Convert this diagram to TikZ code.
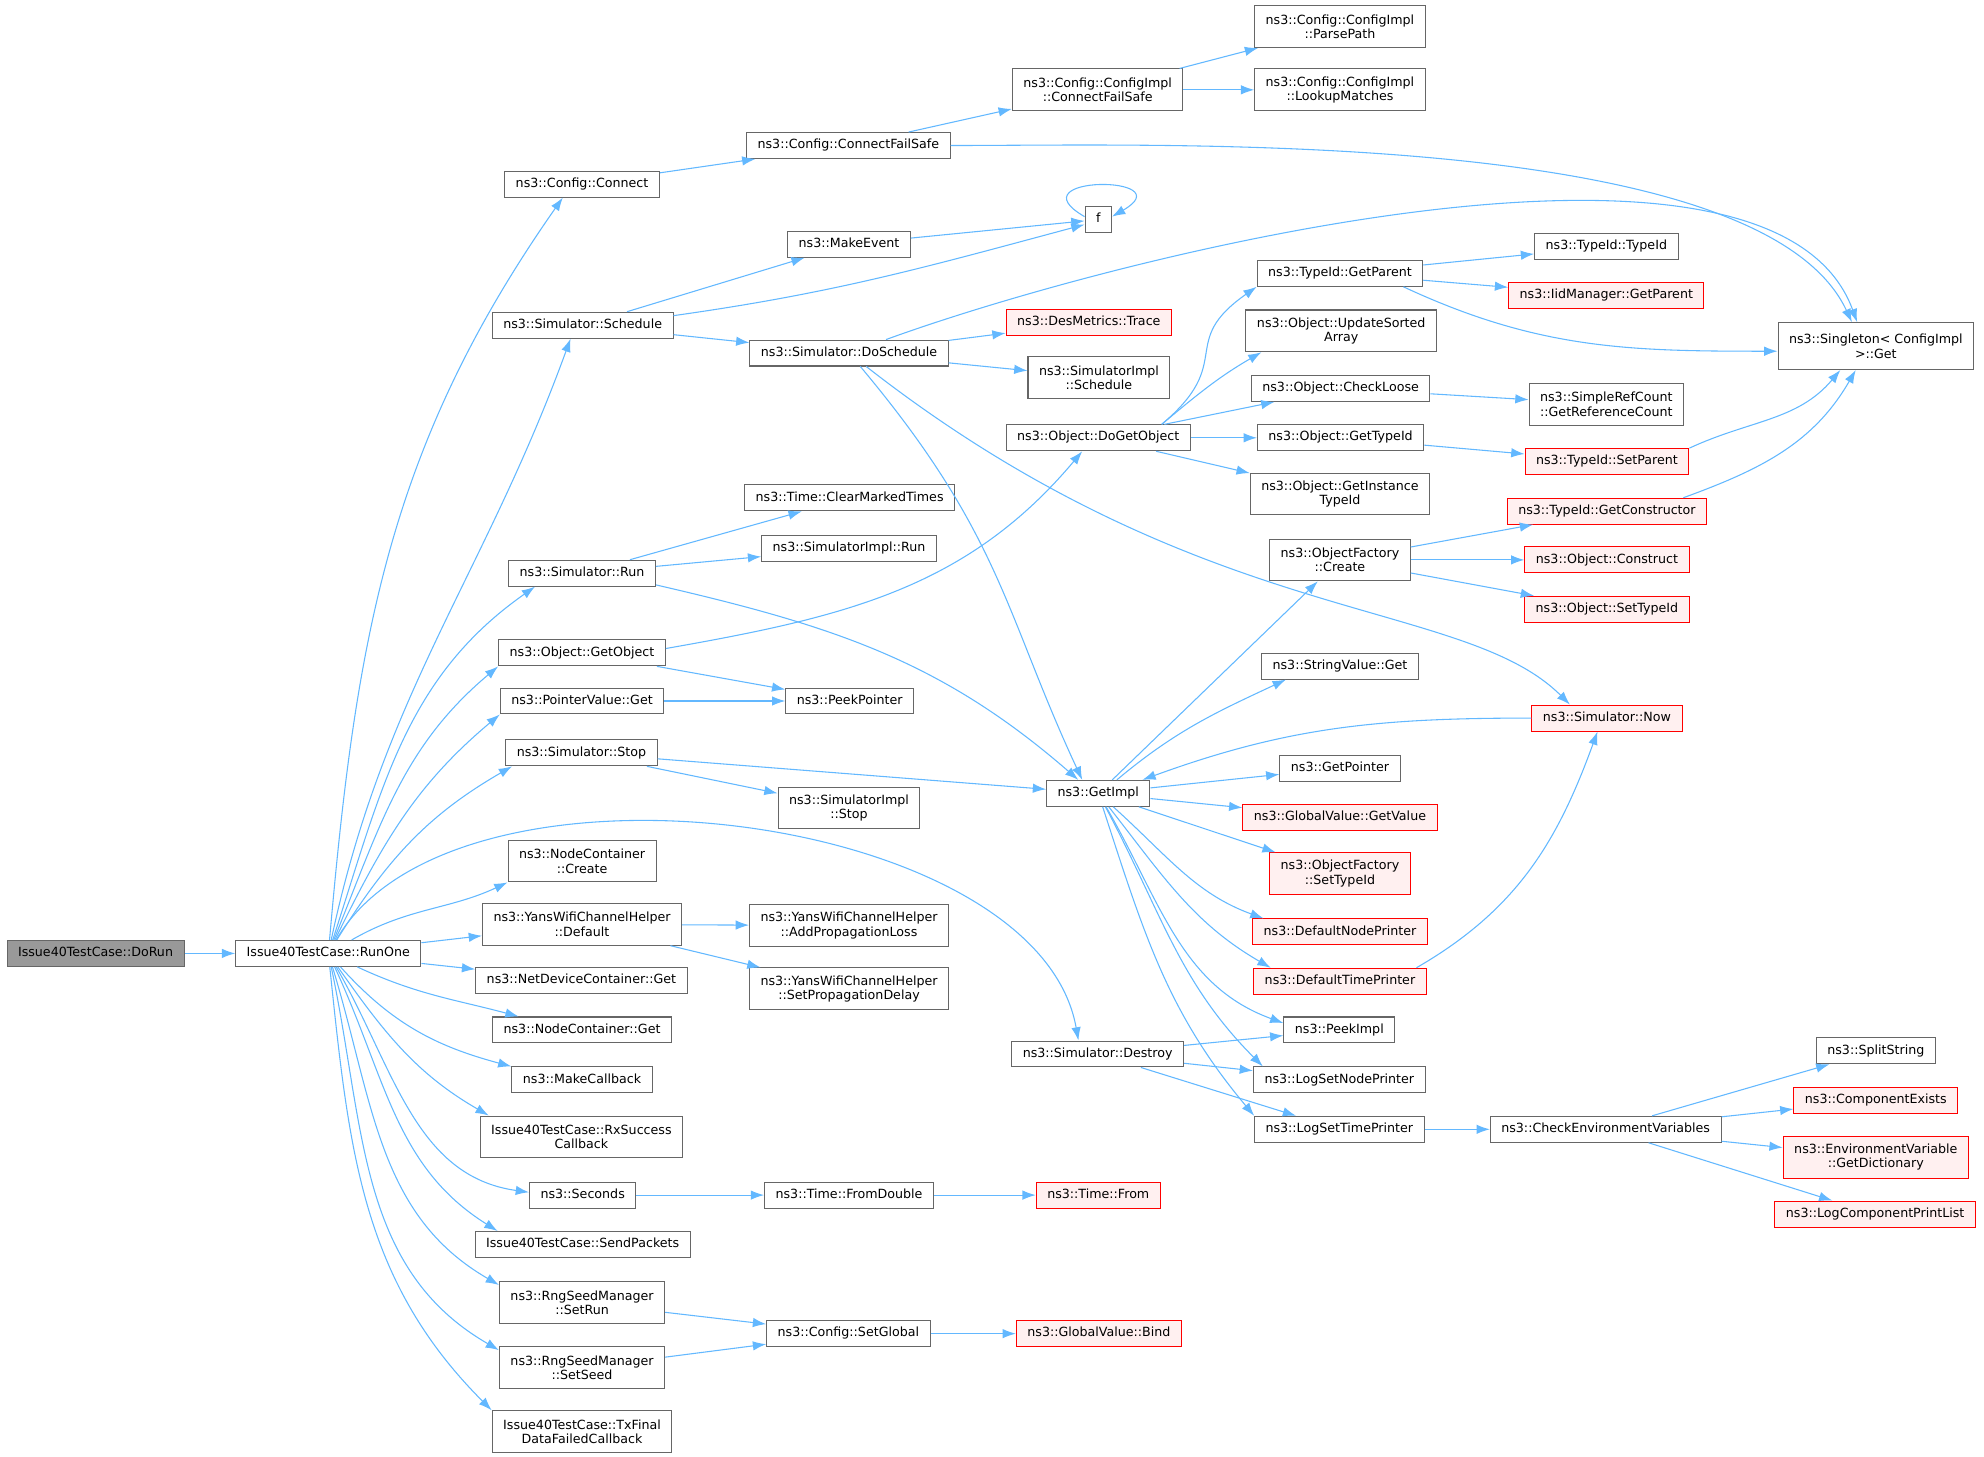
\documentclass[tikz,border=0pt]{standalone}
\usepackage{fontspec}
\setmainfont{DejaVu Sans}
\usetikzlibrary{arrows.meta}
\definecolor{edgeblue}{HTML}{63B8FF}
\definecolor{boxgray}{HTML}{666666}
\definecolor{missfill}{HTML}{FFF0F0}
\definecolor{rootgray}{HTML}{999999}
\begin{document}
\begin{tikzpicture}[x=1pt,y=1pt,>={Latex[length=10.5pt,width=7.5pt]},
    box/.style={draw=boxgray,fill=white,line width=0.8pt,inner xsep=8.7pt,inner ysep=2pt,font=\fontsize{10}{11.5}\selectfont},
    fn/.style={box,minimum height=20.5pt,text height=7.5pt,text depth=2.5pt},
    fnn/.style={box,minimum height=33pt,align=center},
    miss/.style={draw=red,fill=missfill},
    root/.style={fill=rootgray},
    call/.style={->,color=edgeblue,line width=0.85pt}]
    \useasboundingbox (0,0) rectangle (1568,-1151);

    \node[fn,root] (DoRun) at (75.5,-753.5) {Issue40TestCase::DoRun};
    \node[fn] (RunOne) at (259.5,-753.5) {Issue40TestCase::RunOne};

    \node[fn] (Connect) at (460,-145.5) {ns3::Config::Connect};
    \node[fn] (Schedule) at (460.5,-257) {ns3::Simulator::Schedule};
    \node[fn] (SimRun) at (460,-453) {ns3::Simulator::Run};
    \node[fn] (GetObject) at (460,-516) {ns3::Object::GetObject};
    \node[fn] (PtrGet) at (460,-554) {ns3::PointerValue::Get};
    \node[fn] (SimStop) at (459.5,-595) {ns3::Simulator::Stop};
    \node[fnn] (NcCreate) at (460,-680.5) {ns3::NodeContainer\\::Create};
    \node[fnn] (YwDefault) at (460,-730.5) {ns3::YansWifiChannelHelper\\::Default};
    \node[fn] (NdcGet) at (459.5,-775) {ns3::NetDeviceContainer::Get};
    \node[fn] (NcGet) at (460,-814) {ns3::NodeContainer::Get};
    \node[fn] (MakeCb) at (460,-853.5) {ns3::MakeCallback};
    \node[fnn] (RxCb) at (459.5,-898.5) {Issue40TestCase::RxSuccess\\Callback};
    \node[fn] (Seconds) at (460.5,-944.5) {ns3::Seconds};
    \node[fn] (SendPk) at (460.5,-983.5) {Issue40TestCase::SendPackets};
    \node[fnn] (SetRun) at (460,-1029.5) {ns3::RngSeedManager\\::SetRun};
    \node[fnn] (SetSeed) at (460,-1081) {ns3::RngSeedManager\\::SetSeed};
    \node[fnn] (TxCb) at (460,-1131.5) {Issue40TestCase::TxFinal\\DataFailedCallback};

    \node[fn] (ConnFs) at (670.5,-115) {ns3::Config::ConnectFailSafe};
    \node[fn] (MakeEvent) at (671,-193) {ns3::MakeEvent};
    \node[fn] (DoSched) at (671,-279) {ns3::Simulator::DoSchedule};
    \node[fn] (ClearMt) at (671.5,-393.5) {ns3::Time::ClearMarkedTimes};
    \node[fn] (ImplRun) at (671,-433.5) {ns3::SimulatorImpl::Run};
    \node[fn] (PeekPtr) at (671.5,-554) {ns3::PeekPointer};
    \node[fnn] (ImplStop) at (671,-638.5) {ns3::SimulatorImpl\\::Stop};
    \node[fnn] (AddLoss) at (671,-731.5) {ns3::YansWifiChannelHelper\\::AddPropagationLoss};
    \node[fnn] (SetDelay) at (671,-781.5) {ns3::YansWifiChannelHelper\\::SetPropagationDelay};
    \node[fn] (FromDbl) at (671,-944.5) {ns3::Time::FromDouble};
    \node[fn] (SetGlobal) at (670.5,-1054) {ns3::Config::SetGlobal};

    \node[fnn] (ImplConnFs) at (867.5,-71) {ns3::Config::ConfigImpl\\::ConnectFailSafe};
    \node[fn] (F) at (868,-173.5) {f};
    \node[fn,miss] (Trace) at (860.5,-255) {ns3::DesMetrics::Trace};
    \node[fnn] (ImplSched) at (868.5,-298.5) {ns3::SimulatorImpl\\::Schedule};
    \node[fn] (DoGetObj) at (868,-346) {ns3::Object::DoGetObject};
    \node[fn] (GetImpl) at (868,-627) {ns3::GetImpl};
    \node[fn] (Destroy) at (867.5,-833) {ns3::Simulator::Destroy};
    \node[fn,miss] (TimeFrom) at (868,-944.5) {ns3::Time::From};
    \node[fn,miss] (Bind) at (868.5,-1054) {ns3::GlobalValue::Bind};

    \node[fnn] (ParsePath) at (1059,-21) {ns3::Config::ConfigImpl\\::ParsePath};
    \node[fnn] (Lookup) at (1059,-71) {ns3::Config::ConfigImpl\\::LookupMatches};
    \node[fn] (TidParent) at (1059,-216) {ns3::TypeId::GetParent};
    \node[fnn] (UpdSorted) at (1060,-261.5) {ns3::Object::UpdateSorted\\Array};
    \node[fn] (CheckLoose) at (1059.5,-307) {ns3::Object::CheckLoose};
    \node[fn] (GetTid) at (1059.5,-346) {ns3::Object::GetTypeId};
    \node[fnn] (InstTid) at (1059,-390.5) {ns3::Object::GetInstance\\TypeId};
    \node[fnn] (OfCreate) at (1059,-442.5) {ns3::ObjectFactory\\::Create};
    \node[fn] (StrGet) at (1059,-526.5) {ns3::StringValue::Get};
    \node[fn] (GetPtr) at (1059,-607) {ns3::GetPointer};
    \node[fn,miss] (GetValue) at (1059,-646) {ns3::GlobalValue::GetValue};
    \node[fnn,miss] (OfSetTid) at (1059,-690.5) {ns3::ObjectFactory\\::SetTypeId};
    \node[fn,miss] (NodePr) at (1059,-736.5) {ns3::DefaultNodePrinter};
    \node[fn,miss] (TimePr) at (1059,-775.5) {ns3::DefaultTimePrinter};
    \node[fn] (PeekImpl) at (1058.5,-814) {ns3::PeekImpl};
    \node[fn] (LogNode) at (1058.5,-853.5) {ns3::LogSetNodePrinter};
    \node[fn] (LogTime) at (1058.5,-892.5) {ns3::LogSetTimePrinter};

    \node[fn] (TidCtor) at (1269.5,-195) {ns3::TypeId::TypeId};
    \node[fn,miss] (IidParent) at (1269.5,-233.5) {ns3::IidManager::GetParent};
    \node[fnn] (RefCount) at (1269.5,-319.5) {ns3::SimpleRefCount\\::GetReferenceCount};
    \node[fn,miss] (SetParent) at (1270,-364.5) {ns3::TypeId::SetParent};
    \node[fn,miss] (GetCtor) at (1270,-404) {ns3::TypeId::GetConstructor};
    \node[fn,miss] (Construct) at (1270,-442.5) {ns3::Object::Construct};
    \node[fn,miss] (ObjSetTid) at (1270,-481.5) {ns3::Object::SetTypeId};
    \node[fn,miss] (Now) at (1270,-567.5) {ns3::Simulator::Now};
    \node[fn] (CheckEnv) at (1269,-892.5) {ns3::CheckEnvironmentVariables};

    \node[fnn,minimum height=37pt] (Singleton) at (1482.5,-273.5) {ns3::Singleton< ConfigImpl\\>::Get};
    \node[fn] (Split) at (1482.5,-830.5) {ns3::SplitString};
    \node[fn,miss] (CompEx) at (1482.5,-869.5) {ns3::ComponentExists};
    \node[fnn,miss] (GetDict) at (1482.5,-914.5) {ns3::EnvironmentVariable\\::GetDictionary};
    \node[fn,miss] (PrintList) at (1482,-959.5) {ns3::LogComponentPrintList};

    \path[call] (DoRun) edge (RunOne);
    \path[call] (RunOne) edge[out=85,in=-125] (Connect.215)
        edge[out=78,in=-110] (Schedule.228)
        edge[out=72,in=-145] (SimRun.196)
        edge[out=68,in=-140] (GetObject.south west)
        edge[out=64,in=-140] (PtrGet.south west)
        edge[out=58,in=-150] (SimStop.191)
        edge[out=60,in=100,looseness=0.8] (Destroy.145)
        edge[out=30,in=-155] (NcCreate.south west)
        edge (YwDefault)
        edge (NdcGet)
        edge[out=-25,in=165] (NcGet.168)
        edge[out=-48,in=165] (MakeCb.north west)
        edge[out=-55,in=150] (RxCb.167)
        edge[out=-60,in=172] (Seconds.177)
        edge[out=-65,in=148] (SendPk.171)
        edge[out=-73,in=150] (SetRun.168)
        edge[out=-78,in=150] (SetSeed.168)
        edge[out=-84,in=135] (TxCb.north west);

    \path[call] (Connect) edge (ConnFs);
    \path[call] (ConnFs) edge (ImplConnFs)
        edge[out=0,in=115,looseness=0.6] (Singleton.135);
    \path[call] (ImplConnFs) edge (ParsePath) edge (Lookup);
    \path[call] (Schedule) edge (MakeEvent) edge (DoSched);
    \path[call] (Schedule.6) edge[out=8,in=195] (F.200);
    \path[call] (MakeEvent) edge (F);
    \path[call] (F.168) edge[out=150,in=30,min distance=66pt] (F.12);
    \path[call] (DoSched) edge (Trace) edge (ImplSched)
        edge[out=20,in=110,looseness=0.65] (Singleton.128)
        edge[out=-50,in=115,out looseness=1.2] (GetImpl.140)
        edge[out=-38,in=135,out looseness=1.4,in looseness=0.5] (Now.160);
    \path[call] (SimRun) edge (ClearMt) edge (ImplRun);
    \path[call] (SimRun.-9) edge[out=-13,in=139] (GetImpl.146);
    \path[call] (GetObject.3) edge[out=10,in=-130] (DoGetObj.220);
    \path[call] (GetObject) edge (PeekPtr);
    \path[call] (PtrGet) edge (PeekPtr);
    \path[call] (SimStop) edge (GetImpl) edge (ImplStop);
    \path[call] (YwDefault) edge (AddLoss) edge (SetDelay);
    \path[call] (Seconds) edge (FromDbl);
    \path[call] (FromDbl) edge (TimeFrom);
    \path[call] (SetRun) edge (SetGlobal);
    \path[call] (SetSeed) edge (SetGlobal);
    \path[call] (SetGlobal) edge (Bind);

    \path[call] (DoGetObj.12) edge[out=40,in=-145,looseness=1.5] (TidParent.south west)
        edge[out=40,in=-150] (UpdSorted.195);
    \path[call] (DoGetObj) edge (CheckLoose) edge (GetTid) edge (InstTid);
    \path[call] (TidParent) edge (TidCtor) edge (IidParent);
    \path[call] (TidParent.-12) edge[out=-25,in=180] (Singleton.183);
    \path[call] (CheckLoose) edge (RefCount);
    \path[call] (GetTid) edge (SetParent);
    \path[call] (SetParent.9) edge[out=25,in=-130] (Singleton.-146);
    \path[call] (GetCtor.10) edge[out=20,in=-120] (Singleton.-130);
    \path[call] (OfCreate) edge (GetCtor) edge (Construct) edge (ObjSetTid);

    \path[call] (GetImpl) edge (OfCreate);
    \path[call] (GetImpl.36) edge[out=40,in=-155] (StrGet.194);
    \path[call] (Now) edge[out=180,in=20] (GetImpl.17);
    \path[call] (GetImpl) edge (GetPtr) edge (GetValue) edge (OfSetTid)
        edge[out=-42,in=160] (NodePr.170)
        edge[out=-52,in=150] (TimePr.169)
        edge[out=-60,in=160] (PeekImpl.173)
        edge[out=-62,in=135] (LogNode.170)
        edge[out=-72,in=130] (LogTime.171);
    \path[call] (TimePr.10) edge[out=30,in=-110] (Now.-125);
    \path[call] (Destroy) edge (PeekImpl) edge (LogNode) edge (LogTime);
    \path[call] (LogTime) edge (CheckEnv);
    \path[call] (CheckEnv) edge (Split) edge (CompEx) edge (GetDict) edge (PrintList);
\end{tikzpicture}
\end{document}
